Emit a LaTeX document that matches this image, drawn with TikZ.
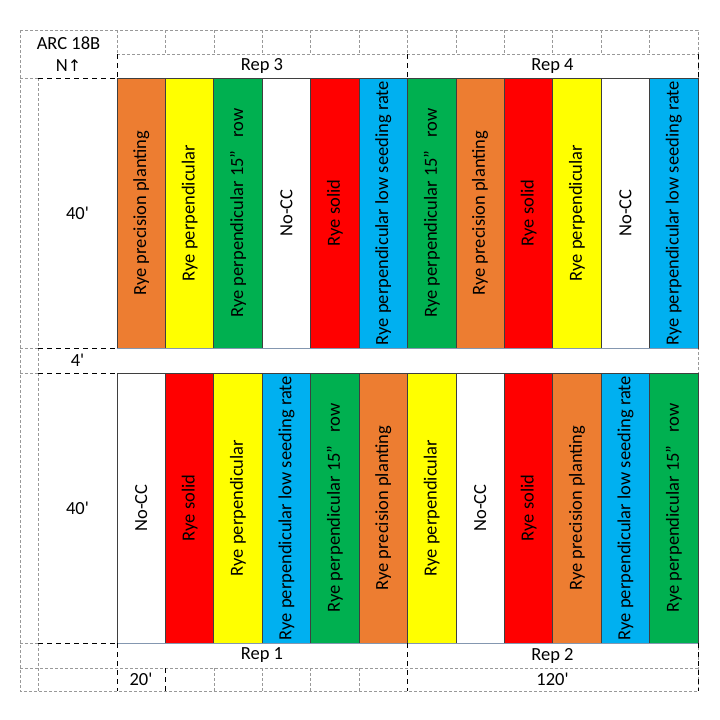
\documentclass[tikz,border=0pt]{standalone}
\usepackage{fontspec}
\setmainfont{Carlito}
\newfontfamily\arrowfont{DejaVu Sans}
\usepackage{tikz}
\usepackage{xcolor}
\definecolor{or1}{HTML}{ED7D31}
\definecolor{ye1}{HTML}{FFFF00}
\definecolor{gr1}{HTML}{00B050}
\definecolor{re1}{HTML}{FF0000}
\definecolor{bl1}{HTML}{00B0F0}
\definecolor{wh1}{HTML}{FFFFFF}
\definecolor{edge}{HTML}{3F3F3F}
\definecolor{sep}{HTML}{8497B0}
\newcommand\ft[1]{#1\textquotesingle}
\tikzstyle{grid line}=[color=black!40,line width=0.6pt,dash pattern=on 3pt off 2pt]
\tikzstyle{rep line}=[black,line width=0.9pt,dash pattern=on 5pt off 4pt]
\tikzstyle{plot}=[draw=edge,line width=0.7pt,minimum width=48.42pt,minimum height=270pt,inner sep=0pt]

\begin{document}
\begin{tikzpicture}[x=1pt,y=-1pt,font=\fontsize{18.5}{21}\selectfont]
  \useasboundingbox (0,0) rectangle (720,720);
  % gray sheet grid
  \draw[grid line] (20,30) rectangle (698,691);
  \draw[grid line] (117,54) -- (698,54);
  \foreach \k in {0,...,11}
    \draw[grid line] (117+\k*48.42,30) -- (117+\k*48.42,54);
  \draw[grid line] (38,78) -- (38,691);
  \foreach \y in {78,348,373,643}
    \draw[grid line] (20,\y) -- (38,\y);
  \draw[grid line] (20,668) -- (698,668);
  \foreach \k in {2,...,5}
    \draw[grid line] (117+\k*48.42,668) -- (117+\k*48.42,691);
  % plots, north block (Rep 3, Rep 4)
  \foreach \c/\t [count=\i, evaluate=\i as \xc using 117+(\i-0.5)*48.42] in
    {or1/Rye precision planting, ye1/Rye perpendicular,
     gr1/Rye perpendicular 15”~~~row, wh1/No-CC, re1/Rye solid,
     bl1/Rye perpendicular low seeding rate, gr1/Rye perpendicular 15”~~~row,
     or1/Rye precision planting, re1/Rye solid, ye1/Rye perpendicular,
     wh1/No-CC, bl1/Rye perpendicular low seeding rate}
  {
    \node[plot,fill=\c] (t\i) at (\xc,213) {};
    \node[rotate=90] at (t\i) {\t};
  }
  % plots, south block (Rep 1, Rep 2)
  \foreach \c/\t [count=\i, evaluate=\i as \xc using 117+(\i-0.5)*48.42] in
    {wh1/No-CC, re1/Rye solid, ye1/Rye perpendicular,
     bl1/Rye perpendicular low seeding rate, gr1/Rye perpendicular 15”~~~row,
     or1/Rye precision planting, ye1/Rye perpendicular, wh1/No-CC,
     re1/Rye solid, or1/Rye precision planting,
     bl1/Rye perpendicular low seeding rate, gr1/Rye perpendicular 15”~~~row}
  {
    \node[plot,fill=\c] (b\i) at (\xc,508) {};
    \node[rotate=90] at (b\i) {\t};
  }
  \draw[sep,line width=0.7pt] (t1.south west) -- (t12.south east);
  \draw[sep,line width=0.7pt] (b1.south west) -- (b12.south east);
  % rep boundaries
  \foreach \y in {78,348,373,643}
    \draw[rep line] (38,\y) -- (117,\y);
  \foreach \x in {117,407,698} {
    \draw[rep line] (\x,54) -- (\x,78);
    \draw[rep line] (\x,643) -- (\x,691);
  }
  \draw[rep line] (165.42,668) -- (165.42,691);
  % labels
  \node (arc)   at (68.5,43)  {ARC 18B};
  \node (north) at (68.5,66)  {N{\arrowfont\fontsize{16}{18}\selectfont ↑}};
  \node (len1)  at (77.5,213) {\ft{40}};
  \node (gap)   at (77.5,360.5) {\ft{4}};
  \node (len2)  at (77.5,508) {\ft{40}};
  \node (rep3)  at (262,66)   {Rep 3};
  \node (rep4)  at (552.5,66) {Rep 4};
  \node (rep1)  at (262,655.5) {Rep 1};
  \node (rep2)  at (552.5,655.5) {Rep 2};
  \node (wdt)   at (141,679.5) {\ft{20}};
  \node (tot)   at (552.5,679.5) {\ft{120}};
\end{tikzpicture}
\end{document}
